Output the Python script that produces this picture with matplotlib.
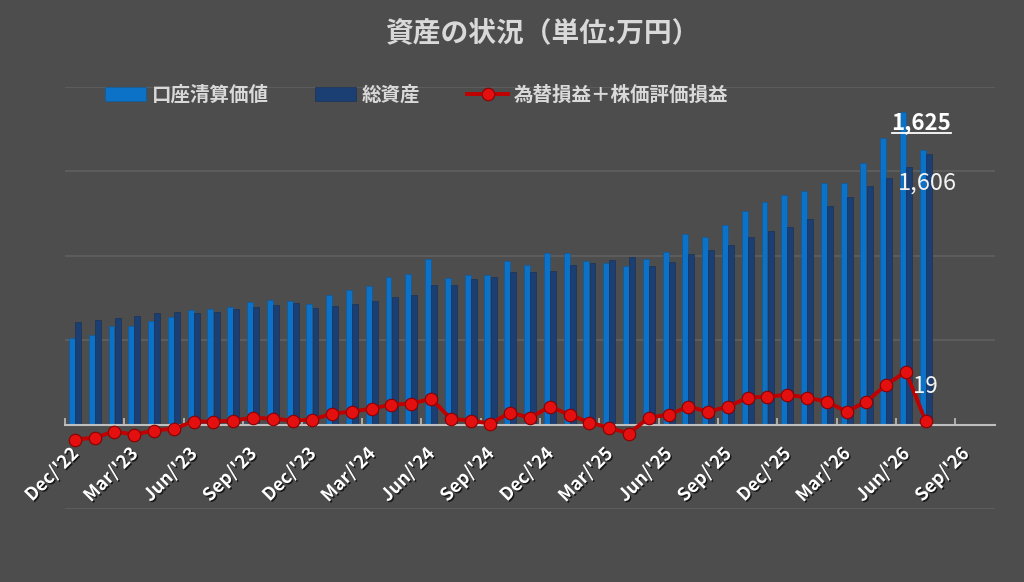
import numpy as np
import pandas as pd
import matplotlib
matplotlib.use("Agg")
import matplotlib.pyplot as plt
import matplotlib.patheffects as pe
from matplotlib.lines import Line2D

plt.rcParams['font.family'] = ['Noto Sans CJK JP', 'DejaVu Sans']

# monthly data, Dec 2022 .. Jul 2026 (万円)
months = pd.date_range('2022-12-01', periods=44, freq='MS')

settle = [514, 532, 585, 585, 615, 638, 680, 686, 697, 727, 739, 733,
          715, 768, 798, 821, 875, 892, 981, 869, 886, 886, 969, 946,
          1017, 1017, 969, 957, 940, 981, 1022, 1129, 1111, 1182, 1265, 1318,
          1359, 1383, 1430, 1430, 1548, 1696, 1850, 1625]

total = [609, 621, 632, 644, 662, 668, 662, 668, 686, 697, 709, 721,
         691, 703, 715, 733, 756, 768, 827, 827, 863, 875, 904, 904,
         910, 946, 957, 975, 993, 940, 963, 1011, 1034, 1064, 1111, 1147,
         1170, 1217, 1294, 1347, 1412, 1460, 1525, 1606]

pnl = [-89, -77, -41, -59, -35, -24, 18, 18, 24, 41, 35, 24,
       30, 65, 77, 95, 118, 124, 154, 35, 24, 6, 71, 41,
       106, 59, 12, -18, -53, 41, 59, 106, 77, 106, 160, 165,
       177, 160, 136, 77, 136, 236, 313, 19]

tick_labels = ["Dec/'22", "Mar/'23", "Jun/'23", "Sep/'23", "Dec/'23", "Mar/'24",
               "Jun/'24", "Sep/'24", "Dec/'24", "Mar/'25", "Jun/'25", "Sep/'25",
               "Dec/'25", "Mar/'26", "Jun/'26", "Sep/'26"]

BG = '#4d4d4d'
TXT = '#d9d9d9'

fig = plt.figure(figsize=(10.24, 5.82), dpi=100, facecolor=BG)
ax = fig.add_axes([65/1024, 1 - 509/582, 930/1024, 422/582])
ax.set_facecolor(BG)

x = np.arange(len(months))
b1 = ax.bar(x - 0.15, settle, width=0.3, color='#0c72c8', edgecolor='#0a5a9e',
            linewidth=0.4, label='口座清算価値', zorder=2)
b2 = ax.bar(x + 0.16, total, width=0.3, color='#1c3f73', edgecolor='#142e55',
            linewidth=0.4, label='総資産', zorder=2)
ln, = ax.plot(x, pnl, color='#c00000', lw=2.8, marker='o', ms=9,
              mfc='#e41010', mec='#8a0000', mew=0.8,
              label='為替損益＋株価評価損益', zorder=4)

ax.set_xlim(-0.5, 46.5)
ax.set_ylim(-500, 2000)
ax.set_yticks([-500, 0, 500, 1000, 1500, 2000])
ax.yaxis.grid(True, color='#5e5e5e', lw=1.3)
ax.set_axisbelow(True)
ax.tick_params(axis='y', length=0, labelleft=False)
for s in ['left', 'right', 'top']:
    ax.spines[s].set_visible(False)
ax.spines['bottom'].set_position(('data', 0))
ax.spines['bottom'].set_color('#bfbfbf')
ax.spines['bottom'].set_linewidth(1.5)
ax.spines['bottom'].set_zorder(3)

# tick marks between quarters, labels on the month
ax.set_xticks(np.arange(-0.5, 47, 3))
ax.tick_params(axis='x', which='major', direction='in', length=5, width=1.2,
               color='#bfbfbf', labelbottom=False)
ax.set_xticks(np.arange(0, 46, 3) - 0.3, tick_labels, minor=True)
ax.tick_params(axis='x', which='minor', length=0, pad=14, labelsize=13,
               labelcolor='white')
shadow = [pe.withSimplePatchShadow(offset=(1, -1), shadow_rgbFace='black', alpha=0.7)]
for lab in ax.get_xticklabels(minor=True):
    lab.set_rotation(45)
    lab.set_ha('right')
    lab.set_rotation_mode('anchor')
    lab.set_fontweight('bold')
    lab.set_path_effects(shadow)

fig.text(542/1024, 1 - 33/582, '資産の状況（単位:万円）', ha='center', va='center',
         fontsize=20, fontweight='bold', color=TXT)

fig.legend([b1, b2, ln], [b1.get_label(), b2.get_label(), ln.get_label()],
           loc='center left', bbox_to_anchor=(105/1024, 1 - 95/582), ncol=3,
           frameon=False, prop={'size': 14, 'weight': 'bold'}, labelcolor=TXT,
           handlelength=2.1, handletextpad=0.3, columnspacing=2.4,
           borderpad=0, borderaxespad=0)

# data labels on the last month
t1 = ax.annotate(f'{settle[-1]:,}', (x[-1] - 0.15, settle[-1]), xytext=(-1, 20),
                 textcoords='offset points', ha='center', va='center',
                 fontsize=16, fontweight='bold', color='white', zorder=6)
ax.annotate(f'{total[-1]:,}', (x[-1] + 0.16, total[-1]), xytext=(-1, -21),
            textcoords='offset points', ha='center', va='center',
            fontsize=17, color='#f2f2f2', zorder=6)
ax.annotate(f'{pnl[-1]:,}', (x[-1], pnl[-1]), xytext=(0, 25),
            textcoords='offset points', ha='center', va='center',
            fontsize=16, color='#f2f2f2', zorder=6)

fig.canvas.draw()
bb = t1.get_window_extent()
inv = fig.transFigure.inverted()
(x0, y0), (x1, _) = inv.transform([(bb.x0, bb.y0 + 1), (bb.x1, bb.y0 + 1)])
fig.add_artist(Line2D([x0, x1], [y0, y0], color='white', lw=1.3))

fig.savefig('out.png', dpi=100, facecolor=BG)
